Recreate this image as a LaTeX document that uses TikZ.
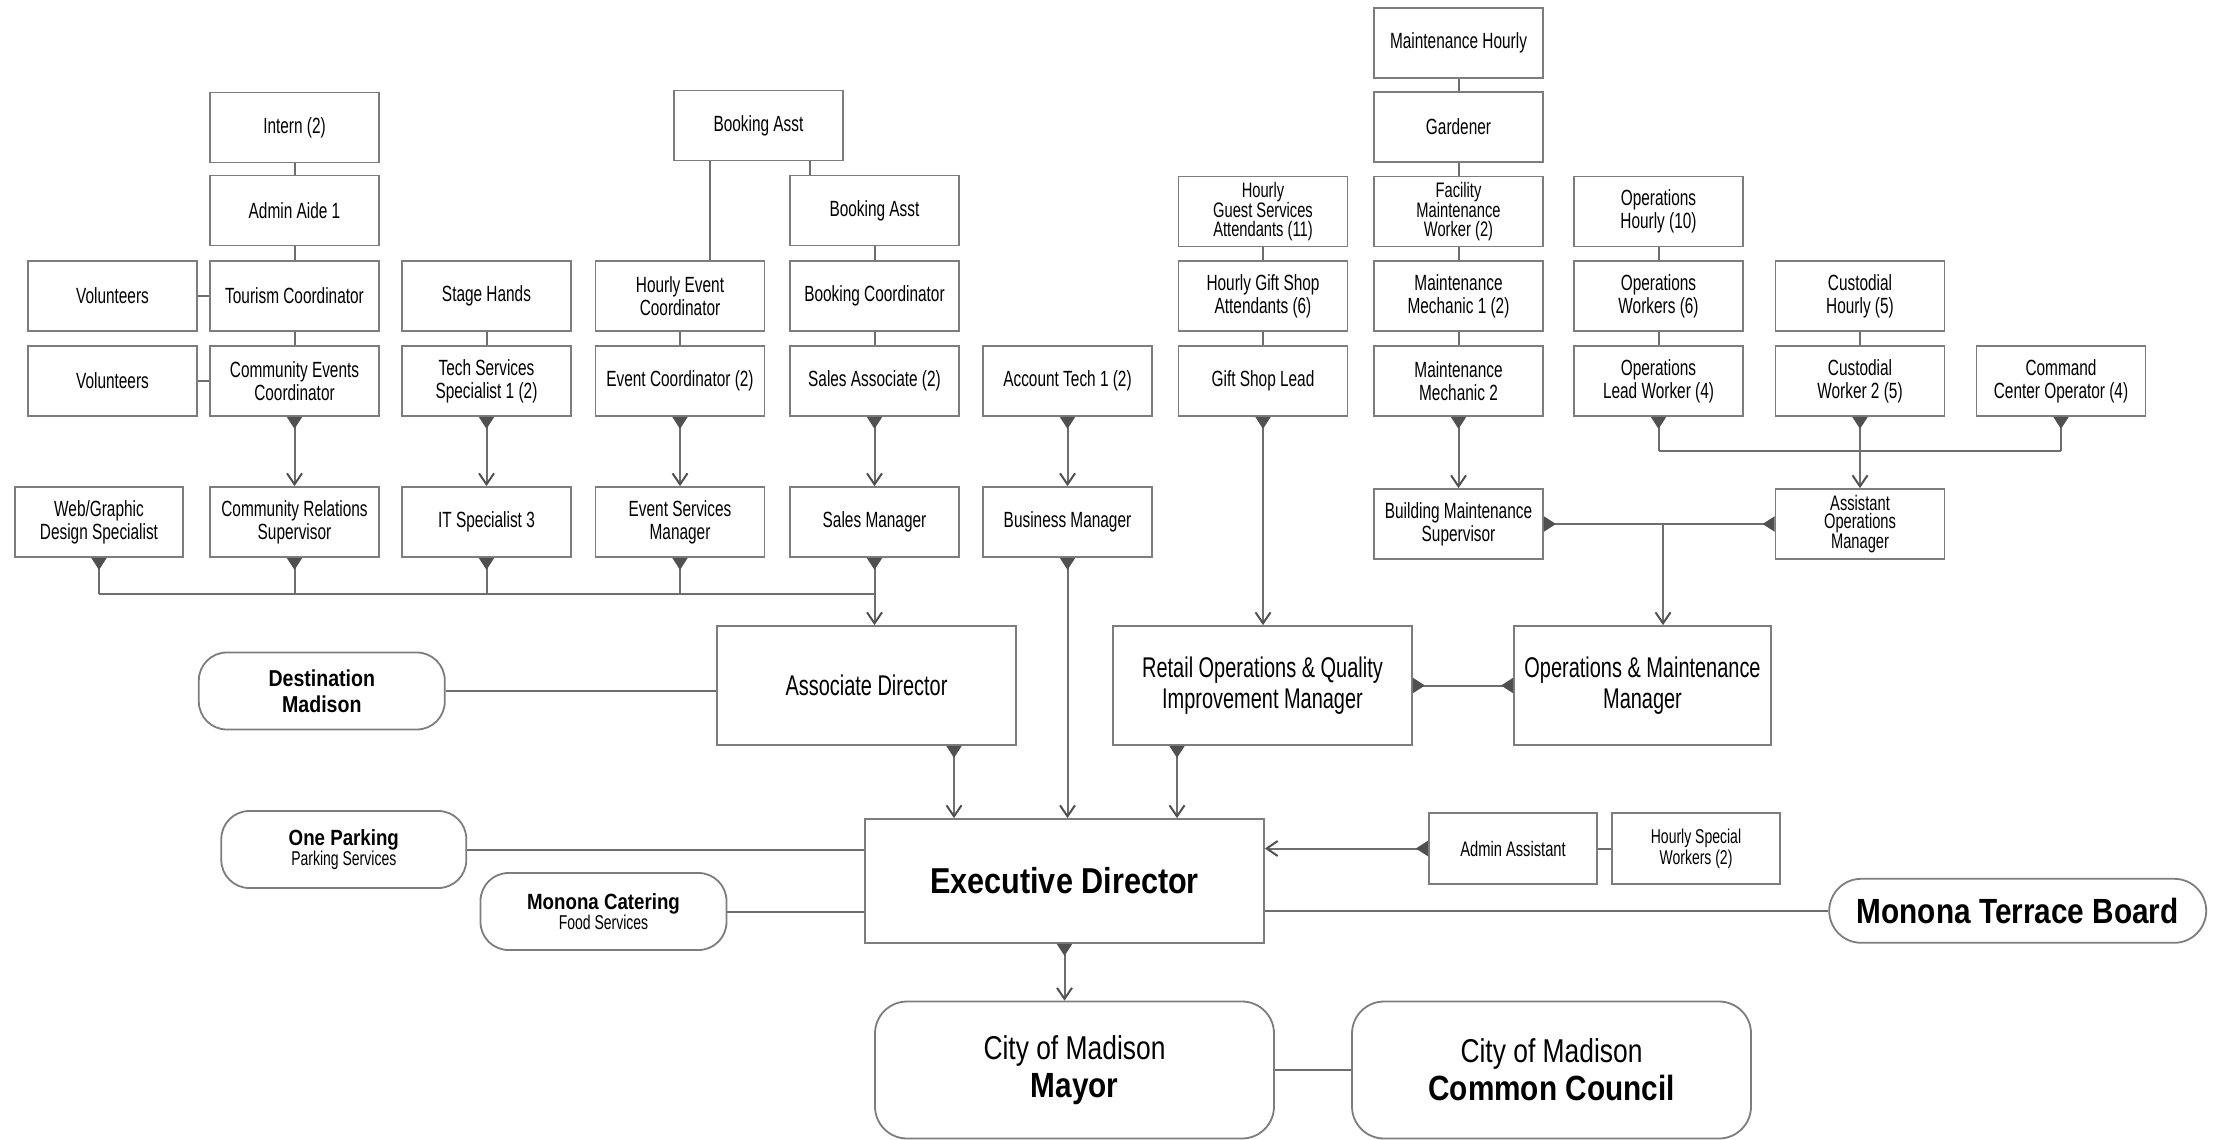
\documentclass[tikz,border=0pt]{standalone}
\usepackage{fontspec}
\setmainfont{Liberation Sans}[FakeStretch=0.70]
\newfontfamily\wfont{Liberation Sans}[FakeStretch=0.80]
\newfontfamily\bfont{Liberation Sans}[FakeStretch=0.85]
\usetikzlibrary{arrows.meta}
\definecolor{boxc}{RGB}{125,125,125}
\definecolor{linec}{RGB}{110,110,110}
\definecolor{tipc}{RGB}{80,80,80}
\begin{document}
\begin{tikzpicture}[x=1pt,y=-1pt,
  box/.style={draw=boxc, line width=1.8pt, fill=white, minimum width=169pt, minimum height=70pt, inner sep=1pt, align=center, font=\fontsize{22}{23}\selectfont},
  box3/.style={box, font=\fontsize{21}{18.5}\selectfont},
  big/.style={box, minimum width=299pt, minimum height=119pt, font=\fontsize{28.5}{31}\selectfont},
  pill/.style={draw=boxc, line width=1.8pt, fill=white, rounded corners=28pt, minimum width=246pt, minimum height=77pt, align=center, inner sep=1pt},
  ln/.style={draw=linec, line width=2pt},
  src/.style={ln, {Triangle[reversed,length=12pt,width=15pt,color=tipc]}-},
  arr/.style={ln, {Triangle[reversed,length=12pt,width=15pt,color=tipc]}-{Straight Barb[length=11pt,width=15pt,color=tipc]}},
  toarr/.style={ln, -{Straight Barb[length=11pt,width=15pt,color=tipc]}},
  both/.style={ln, {Triangle[reversed,length=12pt,width=15pt,color=tipc]}-{Triangle[reversed,length=12pt,width=15pt,color=tipc]}}
]
\useasboundingbox (0,0) rectangle (2216,1140);

% ---- left column group
\node[box] (intern) at (294.5,127.5) {Intern (2)};
\node[box] (aide) at (294.5,210.5) {Admin Aide 1};
\node[box] (tour) at (294.5,296) {Tourism Coordinator};
\node[box] (cec) at (294.5,381) {Community Events\\Coordinator};
\node[box] (crs) at (294.5,522) {Community Relations\\Supervisor};
\node[box] (vol1) at (112.5,296) {Volunteers};
\node[box] (vol2) at (112.5,381) {Volunteers};
\node[box, minimum width=168pt] (web) at (99,522) {Web/Graphic\\Design Specialist};
\node[box] (stage) at (486.5,296) {Stage Hands};
\node[box] (tech) at (486.5,381) {Tech Services\\Specialist 1 (2)};
\node[box] (itsp) at (486.5,522) {IT Specialist 3};
\node[box] (hec) at (680,296) {Hourly Event\\Coordinator};
\node[box] (evc) at (680,381) {Event Coordinator (2)};
\node[box] (esm) at (680,522) {Event Services\\Manager};
\node[box] (book1) at (758.5,125.5) {Booking Asst};
\node[box] (book2) at (874.5,210.5) {Booking Asst};
\node[box] (bcoord) at (874.5,296) {Booking Coordinator};
\node[box] (sassoc) at (874.5,381) {Sales Associate (2)};
\node[box] (smgr) at (874.5,522) {Sales Manager};
\node[box] (acct) at (1067.5,381) {Account Tech 1 (2)};
\node[box] (bmgr) at (1067.5,522) {Business Manager};

% ---- right column group
\node[box3] (hgsa) at (1263,211.5) {Hourly\\Guest Services\\Attendants (11)};
\node[box] (hgift) at (1263,296) {Hourly Gift Shop\\Attendants (6)};
\node[box] (gsl) at (1263,381) {Gift Shop Lead};
\node[box] (mhourly) at (1458.5,43) {Maintenance Hourly};
\node[box] (gard) at (1458.5,127) {Gardener};
\node[box3] (fmw) at (1458.5,211.5) {Facility\\Maintenance\\Worker (2)};
\node[box] (mm1) at (1458.5,296) {Maintenance\\Mechanic 1 (2)};
\node[box] (mm2) at (1458.5,381) {Maintenance\\Mechanic 2};
\node[box] (bms) at (1458.5,524) {Building Maintenance\\Supervisor};
\node[box] (ohourly) at (1658.5,211.5) {Operations\\Hourly (10)};
\node[box] (owork) at (1658.5,296) {Operations\\Workers (6)};
\node[box] (olead) at (1658.5,381) {Operations\\Lead Worker (4)};
\node[box] (chourly) at (1860,296) {Custodial\\Hourly (5)};
\node[box] (cwork) at (1860,381) {Custodial\\Worker 2 (5)};
\node[box3] (aom) at (1860,524) {Assistant\\Operations\\Manager};
\node[box] (cmd) at (2061,381) {Command\\Center Operator (4)};

% ---- managers
\node[big] (ad) at (866.5,685.5) {Associate Director};
\node[big] (retail) at (1262.5,685.5) {Retail Operations \& Quality\\Improvement Manager};
\node[big, minimum width=257pt] (om) at (1642.5,685.5) {Operations \& Maintenance\\Manager};
\node[box, minimum width=399pt, minimum height=124pt, font=\bfont\bfseries\fontsize{36}{40}\selectfont] (ed) at (1064.5,881) {Executive Director};
\node[box, minimum width=168.5pt, minimum height=70.5pt, font=\fontsize{21}{23}\selectfont] (aa) at (1513,848.5) {Admin Assistant};
\node[box, minimum width=168.5pt, minimum height=70.5pt, font=\fontsize{20}{21}\selectfont] (hsw) at (1696,848.5) {Hourly Special\\Workers (2)};
\node[box, rounded corners=32pt, minimum width=399pt, minimum height=137pt, font=\wfont\fontsize{33}{38}\selectfont] (mayor) at (1074.5,1070) {City of Madison\\{\bfont\bfseries\fontsize{35}{38}\selectfont Mayor}};
\node[box, rounded corners=32pt, minimum width=399pt, minimum height=137pt, font=\wfont\fontsize{33}{38}\selectfont] (council) at (1551.5,1070) {City of Madison\\{\bfont\bfseries\fontsize{35}{38}\selectfont Common Council}};

% ---- partners
\node[pill, font=\bfont\bfseries\fontsize{23}{26}\selectfont] (dm) at (321.8,691) {Destination\\Madison};
\node[pill, minimum width=245pt, font=\fontsize{20}{20}\selectfont] (op) at (343.8,849.5) {{\bfont\bfseries\fontsize{22}{22}\selectfont One Parking}\\Parking Services};
\node[pill, font=\fontsize{20}{20}\selectfont] (mc) at (603.5,911.5) {{\bfont\bfseries\fontsize{22}{22}\selectfont Monona Catering}\\Food Services};
\node[pill, rounded corners=32pt, minimum width=377pt, minimum height=64pt, font=\bfont\bfseries\fontsize{35}{40}\selectfont] (mtb) at (2017.7,910.8) {Monona Terrace Board};

% ---- helper coordinates
\coordinate (bkL) at (710,0);
\coordinate (bkR) at (810,0);
\coordinate (busL) at (0,594);
\coordinate (busR) at (0,451);
\coordinate (adx) at (954,0);
\coordinate (rtx) at (1177,0);
\coordinate (jn) at (1663,524);

% ---- plain links
\draw[ln] (intern) -- (aide);
\draw[ln] (aide) -- (tour);
\draw[ln] (tour) -- (cec);
\draw[ln] (vol1) -- (tour);
\draw[ln] (vol2) -- (cec);
\draw[ln] (stage) -- (tech);
\draw[ln] (hec) -- (evc);
\draw[ln] (book1.south -| bkL) -- (hec.north -| bkL);
\draw[ln] (book1.south -| bkR) -- (book2.north -| bkR);
\draw[ln] (book2) -- (bcoord);
\draw[ln] (bcoord) -- (sassoc);
\draw[ln] (hgsa) -- (hgift);
\draw[ln] (hgift) -- (gsl);
\draw[ln] (mhourly) -- (gard);
\draw[ln] (gard) -- (fmw);
\draw[ln] (fmw) -- (mm1);
\draw[ln] (mm1) -- (mm2);
\draw[ln] (ohourly) -- (owork);
\draw[ln] (owork) -- (olead);
\draw[ln] (chourly) -- (cwork);
\draw[ln] (aa) -- (hsw);
\draw[ln] (dm.east) -- (dm.east -| ad.west);
\draw[ln] (op.east) -- (op.east -| ed.west);
\draw[ln] (mc.east) -- (mc.east -| ed.west);
\draw[ln] (ed.east |- mtb.west) -- (mtb.west);
\draw[ln] (mayor) -- (council);

% ---- reporting arrows
\draw[arr] (cec) -- (crs);
\draw[arr] (tech) -- (itsp);
\draw[arr] (evc) -- (esm);
\draw[arr] (sassoc) -- (smgr);
\draw[arr] (acct) -- (bmgr);
\draw[arr] (mm2) -- (bms);
\draw[src] (web.south) -- (web.south |- busL);
\draw[src] (crs.south) -- (crs.south |- busL);
\draw[src] (itsp.south) -- (itsp.south |- busL);
\draw[src] (esm.south) -- (esm.south |- busL);
\draw[ln] (web.south |- busL) -- (smgr.south |- busL);
\draw[arr] (smgr.south) -- (smgr.south |- ad.north);
\draw[arr] (bmgr.south) -- (bmgr.south |- ed.north);
\draw[arr] (ad.south -| adx) -- (ed.north -| adx);
\draw[arr] (retail.south -| rtx) -- (ed.north -| rtx);
\draw[arr] (gsl.south) -- (gsl.south |- retail.north);
\draw[src] (olead.south) -- (olead.south |- busR);
\draw[src] (cmd.south) -- (cmd.south |- busR);
\draw[ln] (olead.south |- busR) -- (cmd.south |- busR);
\draw[arr] (cwork) -- (aom);
\draw[both] (bms.east) -- (bms.east -| aom.west);
\draw[toarr] (jn) -- (jn |- om.north);
\draw[both] (retail.east) -- (retail.east -| om.west);
\draw[arr] (aa.west) -- (aa.west -| ed.east);
\draw[arr] (ed.south) -- (ed.south |- mayor.north);
\end{tikzpicture}
\end{document}
